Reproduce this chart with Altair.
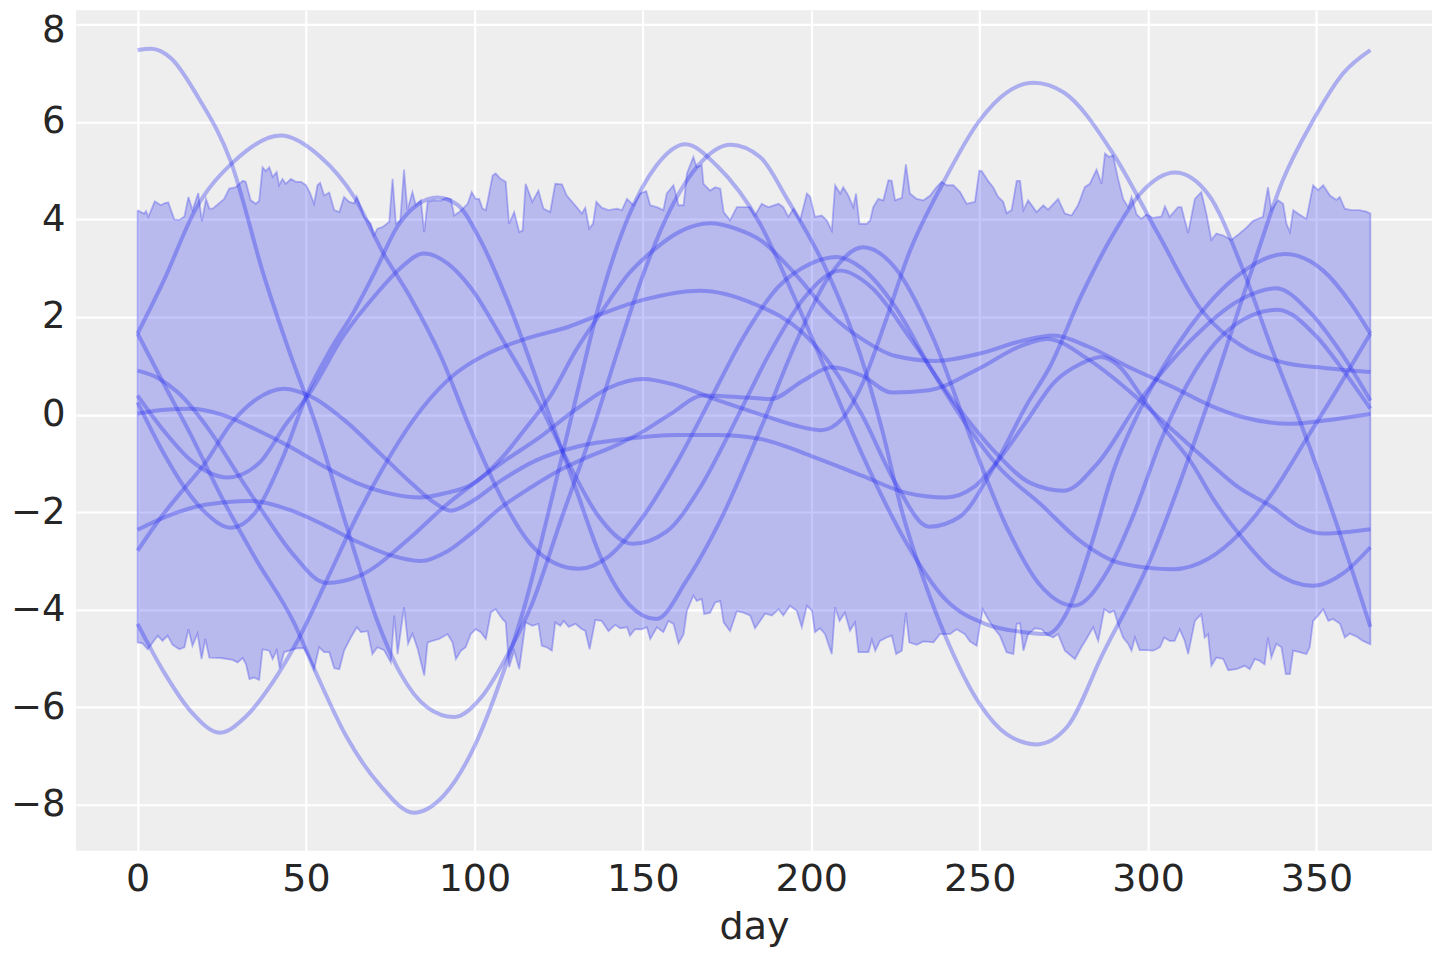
import altair as alt
import pandas as pd

# ---------------- band (upper / lower edge) ----------------
band_upper = [[0,4.19],[1,4.15],[2,4.12],[2.5,4.17],[3.2,4.05],[5.1,4.37],[6.9,4.29],[7.9,4.33],[9.1,4.35],[10.9,4.0],[12.4,3.99],[13.9,4.06],[15.1,4.46],[16.3,4.19],[18,4.54],[19.1,3.96],[20.3,4.42],[21.3,4.22],[22.3,4.22],[25.7,4.42],[27.2,4.63],[29.2,4.66],[31.2,4.79],[32.1,4.77],[33.6,4.39],[35.1,4.32],[36.1,4.38],[37.1,5.07],[38.1,4.99],[39.1,5.07],[40.1,4.87],[41.3,4.97],[42,4.7],[43,4.83],[44,4.73],[45.5,4.83],[47,4.77],[48.5,4.77],[50,4.7],[51.2,4.54],[52.4,4.32],[53.4,4.7],[54.2,4.75],[55.4,4.49],[56.9,4.55],[58.4,4.19],[59.9,4.15],[61.3,4.46],[62.8,4.36],[64.3,4.33],[65.1,4.47],[67.3,4.05],[69.2,3.91],[70.2,3.67],[71.2,3.81],[72.7,3.84],[74.7,3.95],[75.7,4.83],[76.7,3.91],[78,3.98],[79.1,5.02],[80.1,4.19],[81.6,4.56],[82.6,4.29],[84.1,4.39],[85.1,3.74],[86.1,4.36],[88,4.39],[90,4.38],[91.5,4.44],[93,4.42],[94,4.08],[95.5,4.15],[97,4.25],[98,4.32],[99.2,4.56],[100.4,4.42],[101.4,4.42],[102.4,4.22],[103.4,4.19],[105.4,4.9],[106.3,4.94],[107.8,4.83],[109.3,4.77],[110.3,3.91],[111.8,4.15],[113.3,3.74],[114.3,3.77],[115.2,4.73],[117.2,4.36],[119,4.59],[120.5,4.22],[122.5,4.15],[124,4.73],[126,4.72],[127.4,4.49],[129.9,4.29],[131.9,4.12],[132.9,4.24],[134.1,3.81],[135.2,3.91],[136.2,4.36],[137.8,4.24],[139.8,4.19],[142.3,4.22],[143.8,4.19],[145.3,4.42],[147.2,4.29],[149.2,4.53],[151,4.58],[152.2,4.29],[154.2,4.25],[156.1,4.19],[157.1,4.53],[159.1,4.7],[160.6,4.29],[162.1,4.29],[163.1,4.94],[165,5.28],[166,5.07],[167.5,5.11],[168,4.73],[170,4.59],[171.5,4.66],[173,4.63],[174,4.15],[175.9,3.98],[177.9,4.25],[179.9,4.25],[181.9,4.25],[183.3,4.08],[185.3,4.32],[187.3,4.25],[190.3,4.32],[191.7,4.25],[193.2,4.05],[194.7,4.22],[196.7,3.98],[198.7,4.53],[199.7,4.46],[201.1,4.05],[203.1,4.08],[204.6,3.98],[206.1,3.77],[207.1,4.7],[208.6,4.53],[209.5,4.66],[211,4.49],[212.5,4.25],[213.3,4.53],[214.3,3.91],[216.5,3.91],[217.5,3.98],[218.4,4.25],[219.9,4.42],[221.4,4.39],[222.9,4.8],[223.9,4.79],[224.9,4.39],[226.9,4.44],[228.1,5.13],[229.3,4.53],[231.3,4.42],[233.3,4.39],[235.3,4.49],[237.2,4.66],[238.7,4.77],[240.2,4.7],[242.2,4.7],[244.2,4.56],[246.1,4.32],[248.6,4.36],[249.9,5.0],[250.6,4.99],[252.5,4.79],[254,4.66],[255.5,4.46],[257,4.36],[258,4.13],[259.5,4.19],[261,4.79],[262,4.79],[263,4.19],[264.4,4.39],[266.9,4.15],[268.9,4.29],[270.3,4.2],[273.3,4.42],[275.3,4.12],[277.3,4.08],[279.2,4.29],[281.2,4.66],[282.7,4.73],[284.7,5.02],[286.2,4.73],[287.2,5.35],[288.4,5.28],[289.6,5.31],[291.1,4.83],[292.6,4.42],[294.1,4.25],[295.1,4.46],[296.6,4.1],[298,4.01],[299.5,4.1],[301.5,4.03],[304,4.06],[305,4.27],[306.4,4.05],[308.9,4.25],[309.9,4.25],[311.9,3.72],[313.9,4.42],[315.8,4.56],[317.3,4.12],[318.8,3.58],[320.3,3.71],[322.3,3.67],[324.7,3.58],[327.2,3.71],[329.2,3.83],[331.2,3.97],[334.1,4.05],[335.6,4.66],[336.6,4.19],[338.6,4.39],[340.1,4.32],[341.1,3.91],[342.1,3.74],[343.1,4.19],[344.5,4.12],[347,4.01],[349,4.7],[350.5,4.6],[352,4.7],[354,4.49],[355.9,4.4],[356.9,4.46],[358.4,4.22],[360.4,4.19],[362.8,4.19],[364.8,4.16],[366,4.12]]

band_lower = [[0,-4.67],[1.5,-4.69],[3,-4.81],[4.5,-4.67],[6,-4.53],[7.4,-4.64],[8.9,-4.53],[10.4,-4.72],[12.4,-4.81],[13.9,-4.77],[15.1,-4.4],[16.3,-4.74],[17.8,-4.49],[19,-5.01],[20.1,-4.6],[21.3,-4.98],[24.7,-4.99],[28.2,-5.03],[29.7,-5.08],[31.2,-4.99],[32.2,-5.12],[33.2,-5.42],[34.6,-5.39],[36.1,-5.44],[37.1,-4.81],[39.1,-4.84],[40.1,-5.01],[41.3,-4.83],[42.2,-5.2],[43.5,-4.87],[45.5,-4.83],[47.5,-4.79],[49.5,-4.79],[51.4,-5.05],[52.4,-5.22],[53.9,-4.77],[55.4,-4.87],[56.9,-4.87],[58.4,-5.2],[59.9,-5.22],[61.3,-4.84],[63.3,-4.57],[65.1,-4.36],[66.3,-4.46],[68.3,-4.44],[69.7,-4.91],[71.2,-4.77],[73.2,-4.83],[75.2,-5.08],[76.2,-4.12],[77.2,-4.91],[79.1,-3.95],[80.3,-4.7],[81.6,-4.49],[83.1,-4.79],[85.1,-5.35],[86.1,-4.67],[87.5,-4.64],[89.5,-4.6],[92,-4.5],[93.5,-4.67],[94.5,-5.01],[96,-4.84],[97.4,-4.77],[98.9,-4.5],[100.4,-4.4],[101.9,-4.46],[103.4,-4.6],[104.9,-4.05],[106.3,-3.99],[108.3,-4.19],[109.3,-4.26],[110.3,-5.18],[111.8,-4.84],[113.3,-5.22],[115.2,-4.26],[117.2,-4.33],[119,-4.29],[120,-4.74],[121.5,-4.77],[123,-4.84],[124,-4.26],[125.5,-4.33],[126.5,-4.23],[128,-4.35],[130,-4.29],[131.9,-4.4],[132.9,-4.43],[134.2,-4.81],[135.9,-4.21],[137.8,-4.23],[139.8,-4.44],[141.8,-4.31],[143.3,-4.38],[145.3,-4.36],[146.2,-4.53],[147.7,-4.4],[149.7,-4.4],[151.2,-4.36],[152.2,-4.6],[154.2,-4.36],[156.1,-4.46],[157.6,-4.23],[159.1,-4.29],[160.6,-4.69],[162.1,-4.5],[163.1,-4.02],[165,-3.71],[166,-3.82],[167.5,-3.78],[168.2,-4.09],[170,-4.06],[171.5,-3.85],[173,-3.82],[174,-4.26],[175.9,-4.44],[177.9,-4.03],[179.9,-4.06],[181.9,-4.12],[183.3,-4.38],[184.8,-4.23],[186.3,-4.08],[188.3,-4.12],[190.3,-3.99],[191.7,-4.12],[193.7,-3.92],[195.7,-4.02],[197.2,-4.36],[198.7,-3.92],[200.2,-4.02],[201.1,-4.46],[202.6,-4.38],[204.1,-4.5],[206.1,-4.91],[207.1,-3.95],[208.4,-4.23],[210,-4.06],[211.5,-4.43],[213,-4.26],[214,-4.87],[216,-4.87],[217,-4.87],[218,-4.62],[219,-4.84],[220.4,-4.64],[222.4,-4.57],[223.9,-4.53],[225.2,-4.91],[226.9,-4.84],[228.1,-4.06],[229.1,-4.67],[231.3,-4.72],[233.3,-4.65],[236.3,-4.67],[238.2,-4.5],[241.2,-4.5],[243.2,-4.4],[245.6,-4.5],[247.1,-4.65],[249.1,-4.74],[250.9,-3.99],[252.5,-4.19],[254.5,-4.4],[256,-4.53],[258,-4.87],[260,-4.91],[261,-4.29],[262,-4.28],[263,-4.84],[264.4,-4.5],[266.4,-4.38],[268.4,-4.4],[269.9,-4.51],[271.8,-4.57],[273.3,-4.5],[275.3,-4.84],[278.3,-5.01],[280.2,-4.77],[281.7,-4.6],[283.7,-4.36],[285.2,-4.64],[287,-3.99],[288.6,-4.06],[289.9,-4.02],[291.1,-4.29],[292.6,-4.57],[294.1,-4.7],[295.1,-4.84],[296.1,-4.57],[297.5,-4.83],[299.5,-4.83],[301.5,-4.84],[303.5,-4.77],[304.8,-4.57],[306.4,-4.64],[307.9,-4.64],[309.4,-4.4],[310.9,-4.64],[311.9,-4.91],[313.9,-4.23],[315.8,-4.09],[316.8,-4.57],[317.8,-4.5],[318.8,-5.15],[320.3,-4.98],[322.3,-5.01],[323.8,-5.24],[326.2,-5.22],[328.7,-5.15],[330.2,-5.22],[331.7,-5.01],[333.2,-5.05],[334.6,-5.12],[335.6,-4.57],[336.6,-4.98],[338.1,-4.7],[339.6,-4.77],[340.9,-5.32],[342.1,-5.32],[343.1,-4.84],[345,-4.87],[347,-4.91],[348,-4.77],[349,-4.23],[350.5,-4.12],[352,-3.99],[353.5,-4.23],[354.9,-4.19],[357,-4.29],[358.4,-4.57],[359.9,-4.49],[361.9,-4.55],[363.8,-4.64],[366,-4.71]]

# ---------------- sample curves (day, value) ----------------
sample_1 = [[0,7.47],[4,7.5],[10,7.3],[18,6.5],[27.6,5.2],[37.7,2.8],[45,1.3],[52.5,-0.12],[63,-2.5],[71,-4.2],[78,-5.3],[86,-6.0],[94,-6.2],[102,-5.8],[110,-4.9],[117,-3.9],[126,-2.1],[135,-0.33],[143,1.4],[150,2.85],[158,4.18],[167,5.15],[176,5.53],[184.8,5.28],[193,4.4],[204.6,2.95],[214.5,1.24],[221,-0.3],[227,-2.0],[234,-3.5],[240,-4.57],[250,-5.93],[258,-6.55],[267,-6.76],[276,-6.4],[286.6,-4.9],[300.5,-3.0],[316,-0.12],[331,3.0],[340,4.8],[349,6.03],[358,7.0],[366,7.47]]
sample_2 = [[0,1.66],[7.8,2.75],[17,4.18],[28.8,5.2],[42.5,5.72],[54,5.3],[64.4,4.45],[73,3.3],[81,2.4],[90,1.2],[98.8,-0.3],[108,-1.7],[116.6,-2.65],[124,-3.05],[131,-3.16],[140,-2.9],[150,-2.1],[160,-1.0],[170,0.3],[180,1.6],[190,2.6],[200,3.1],[207.5,3.23],[215,3.0],[225,2.2],[235,1.0],[245,-0.1],[256,-1.1],[268,-1.83],[280,-2.6],[292,-3.05],[307.5,-3.17],[318,-2.95],[327,-2.45],[337,-1.6],[347,-0.5],[356,0.5],[366,1.66]]
sample_3 = [[0,1.66],[8,0.6],[15.7,-0.4],[25,-1.7],[35,-2.95],[46.3,-4.25],[53,-5.3],[62,-6.6],[72,-7.6],[82,-8.16],[91,-7.8],[100,-6.8],[108,-5.4],[115,-3.9],[122,-2.0],[130,0.3],[138,2.5],[146,4.1],[154,5.1],[162.6,5.54],[172,5.1],[184.8,3.91],[195,2.4],[205,0.8],[215,-0.8],[228,-2.6],[240,-3.8],[252,-4.3],[262,-4.45],[270,-4.5],[277,-3.9],[283,-2.7],[290,-1.1],[297.6,0.1],[312.4,1.79],[327.2,2.88],[340.6,3.29],[352,2.95],[360,2.3],[366,1.66]]
sample_4 = [[0,0.9],[6,0.75],[12,0.45],[21.6,-0.35],[30,-1.25],[37.7,-2.05],[46,-2.85],[56,-3.45],[66,-3.3],[81,-2.52],[90,-1.95],[101,-1.35],[110,-0.9],[118.7,-0.5],[130,0.1],[140,0.55],[150,0.73],[160,0.6],[172,0.3],[185,0.0],[195,-0.22],[203,-0.32],[209,-0.1],[215,0.6],[222,1.9],[229,3.3],[239,4.73],[250,6.03],[258,6.6],[266,6.8],[275,6.6],[289.6,5.35],[303,3.7],[316,2.13],[328,1.4],[340,1.07],[353,0.95],[366,0.87]]
sample_5 = [[0,0.39],[8,-0.35],[16,-0.95],[26.7,-1.29],[36,-1.0],[44,-0.2],[51,0.43],[61,1.6],[71,2.48],[78,3.0],[85,3.3],[92,3.1],[98.8,2.61],[109,1.46],[118.7,0.3],[128,-1.0],[137,-2.1],[147,-2.65],[157,-2.4],[167,-1.5],[177,-0.2],[188,1.3],[198,2.4],[208.6,2.95],[218,2.6],[230,1.5],[243,0.2],[255,-0.8],[265,-1.4],[275,-1.56],[285,-1.0],[297.6,0.29],[312.4,1.5],[327,2.34],[338,2.59],[348,2.1],[357,1.3],[366,0.29]]
sample_6 = [[0,0.25],[7,-0.7],[14,-1.5],[20,-2.0],[27.6,-2.32],[35,-2.0],[43,-0.9],[50.4,0.43],[57,1.3],[64.4,2.13],[71,3.0],[77,3.84],[83,4.3],[89,4.45],[95,4.3],[101.8,3.57],[110,2.3],[121.5,0.13],[130,-1.5],[138,-3.0],[146,-3.9],[154,-4.19],[163,-3.4],[173,-2.17],[186,-0.12],[195,1.4],[205,2.8],[215.5,3.43],[225,3.0],[236,1.6],[248,-0.6],[258,-2.3],[268,-3.5],[278,-3.92],[288,-3.2],[296,-2.0],[304,-0.5],[314,0.9],[326,1.85],[338.5,2.15],[350,1.6],[358,0.9],[366,0.12]]
sample_7 = [[0,0.02],[8,0.1],[15.7,0.12],[25,0.0],[35,-0.3],[45,-0.65],[55,-1.05],[65,-1.4],[75,-1.62],[84,-1.7],[92,-1.6],[98.8,-1.45],[108,-0.9],[115,-0.3],[123,0.43],[130,1.3],[138,2.13],[146,2.9],[153,3.36],[161,3.75],[170,3.92],[178,3.8],[185,3.57],[195,2.9],[205,2.1],[215,1.55],[225,1.2],[237,1.1],[250,1.25],[262,1.5],[272,1.62],[282,1.4],[295,0.95],[307.5,0.56],[318,0.2],[328,-0.05],[342,-0.19],[355,-0.1],[366,0.01]]
sample_8 = [[0,-2.36],[10,-2.05],[20,-1.85],[33.5,-1.77],[45,-1.95],[55,-2.25],[65,-2.6],[75,-2.88],[84,-3.0],[92,-2.8],[98.8,-2.45],[108,-1.9],[116.6,-1.5],[125,-1.15],[131.4,-0.94],[143,-0.6],[150,-0.35],[158,0.0],[168,0.39],[178,0.36],[188,0.32],[197.7,0.7],[206,0.97],[215,0.8],[224,0.45],[235,0.5],[250,0.95],[262,1.4],[270,1.55],[282.7,1.11],[297.6,0.29],[307,-0.3],[317.4,-0.94],[327,-1.5],[337,-1.9],[345,-2.3],[352,-2.44],[360,-2.4],[366,-2.35]]
sample_9 = [[0,-2.79],[7,-2.1],[14,-1.5],[20,-1.0],[27.6,-0.2],[35,0.3],[43.4,0.53],[52,0.35],[62,-0.15],[72,-0.8],[82,-1.45],[88,-1.8],[93,-1.97],[98.8,-1.8],[108,-1.35],[118,-0.95],[131,-0.65],[145,-0.5],[160,-0.42],[172,-0.42],[185,-0.5],[200,-0.85],[215,-1.25],[228,-1.6],[240,-1.7],[248,-1.5],[256,-0.9],[264,-0.13],[272,0.65],[280,1.04],[286,1.18],[292,0.95],[297.6,0.42],[305,-0.3],[312.4,-0.94],[320,-1.8],[327,-2.45],[337,-3.2],[349,-3.51],[358,-3.25],[366,-2.72]]
sample_10 = [[0,-4.29],[8,-5.3],[16,-6.1],[24.4,-6.52],[32,-6.2],[40,-5.5],[48,-4.57],[57,-3.27],[65,-2.1],[73,-1.08],[82,-0.1],[92,0.7],[104,1.25],[116.6,1.58],[128,1.8],[138,2.07],[150,2.35],[167,2.54],[183,2.27],[197.7,1.66],[206,1.0],[215,0.0],[225,-1.4],[235,-2.3],[244,-2.1],[254,-1.1],[264,0.2],[271,1.0],[280,2.41],[289.7,3.7],[297.6,4.52],[308,4.96],[318,4.5],[328,3.0],[337,1.3],[346,-0.3],[357,-2.45],[366,-4.35]]

x_ticks = [0, 50, 100, 150, 200, 250, 300, 350]
y_ticks = [-8, -6, -4, -2, 0, 2, 4, 6, 8]

BLUE = "#2a2eec"
FONT = "DejaVu Sans"
TXT = "#262626"

# band polygon: upper edge left->right, then lower edge right->left, then close
poly = band_upper + band_lower[::-1] + [band_upper[0]]
band_df = pd.DataFrame({"day": [p[0] for p in poly],
                        "value": [p[1] for p in poly],
                        "ord": list(range(len(poly)))})

samples = [sample_1, sample_2, sample_3, sample_4, sample_5,
           sample_6, sample_7, sample_8, sample_9, sample_10]
rows = []
for i, s in enumerate(samples):
    for d, v in s:
        rows.append({"day": d, "value": v, "sample": f"s{i+1}"})
lines_df = pd.DataFrame(rows)

xscale = alt.Scale(domain=[-18.3, 384.3], nice=False, zero=False)
yscale = alt.Scale(domain=[-8.94, 8.285], nice=False, zero=False)

xaxis = alt.Axis(values=x_ticks, title="day", grid=True, domain=False, ticks=False,
                 labelFontSize=38, labelFont=FONT, labelColor=TXT, labelPadding=10,
                 titleFont=FONT, titleFontSize=38, titleFontWeight="normal",
                 titleColor=TXT, titlePadding=10, labelFlush=False)
yaxis = alt.Axis(values=y_ticks, title=None, grid=True, domain=False, ticks=False,
                 labelFontSize=37, labelFont=FONT, labelColor=TXT, labelPadding=11,
                 labelFlush=False,
                 labelOffset={"condition": {"test": "datum.value == 8", "value": 6},
                              "value": 0})

band = alt.Chart(band_df).mark_line(
    fill=BLUE, fillOpacity=0.27, stroke=BLUE, strokeOpacity=0.3, strokeWidth=1.8
).encode(
    x=alt.X("day:Q", scale=xscale, axis=xaxis),
    y=alt.Y("value:Q", scale=yscale, axis=yaxis),
    order="ord:Q",
)

curves = alt.Chart(lines_df).mark_line(
    interpolate="monotone", color=BLUE, opacity=0.34, strokeWidth=4
).encode(
    x=alt.X("day:Q", scale=xscale, axis=xaxis),
    y=alt.Y("value:Q", scale=yscale, axis=yaxis),
    detail="sample:N",
)

chart = alt.layer(band, curves).properties(
    width=1357, height=841,
    padding={"left": 68, "top": 2, "right": 0, "bottom": 100},
    autosize=alt.AutoSizeParams(type="none"),
    background="white",
).configure_view(
    fill="#eeeeee", strokeWidth=0
).configure_axis(
    gridColor="white", gridWidth=2.2, gridOpacity=1
)

chart.save("out.html", embed_options={"renderer": "svg", "actions": False})
